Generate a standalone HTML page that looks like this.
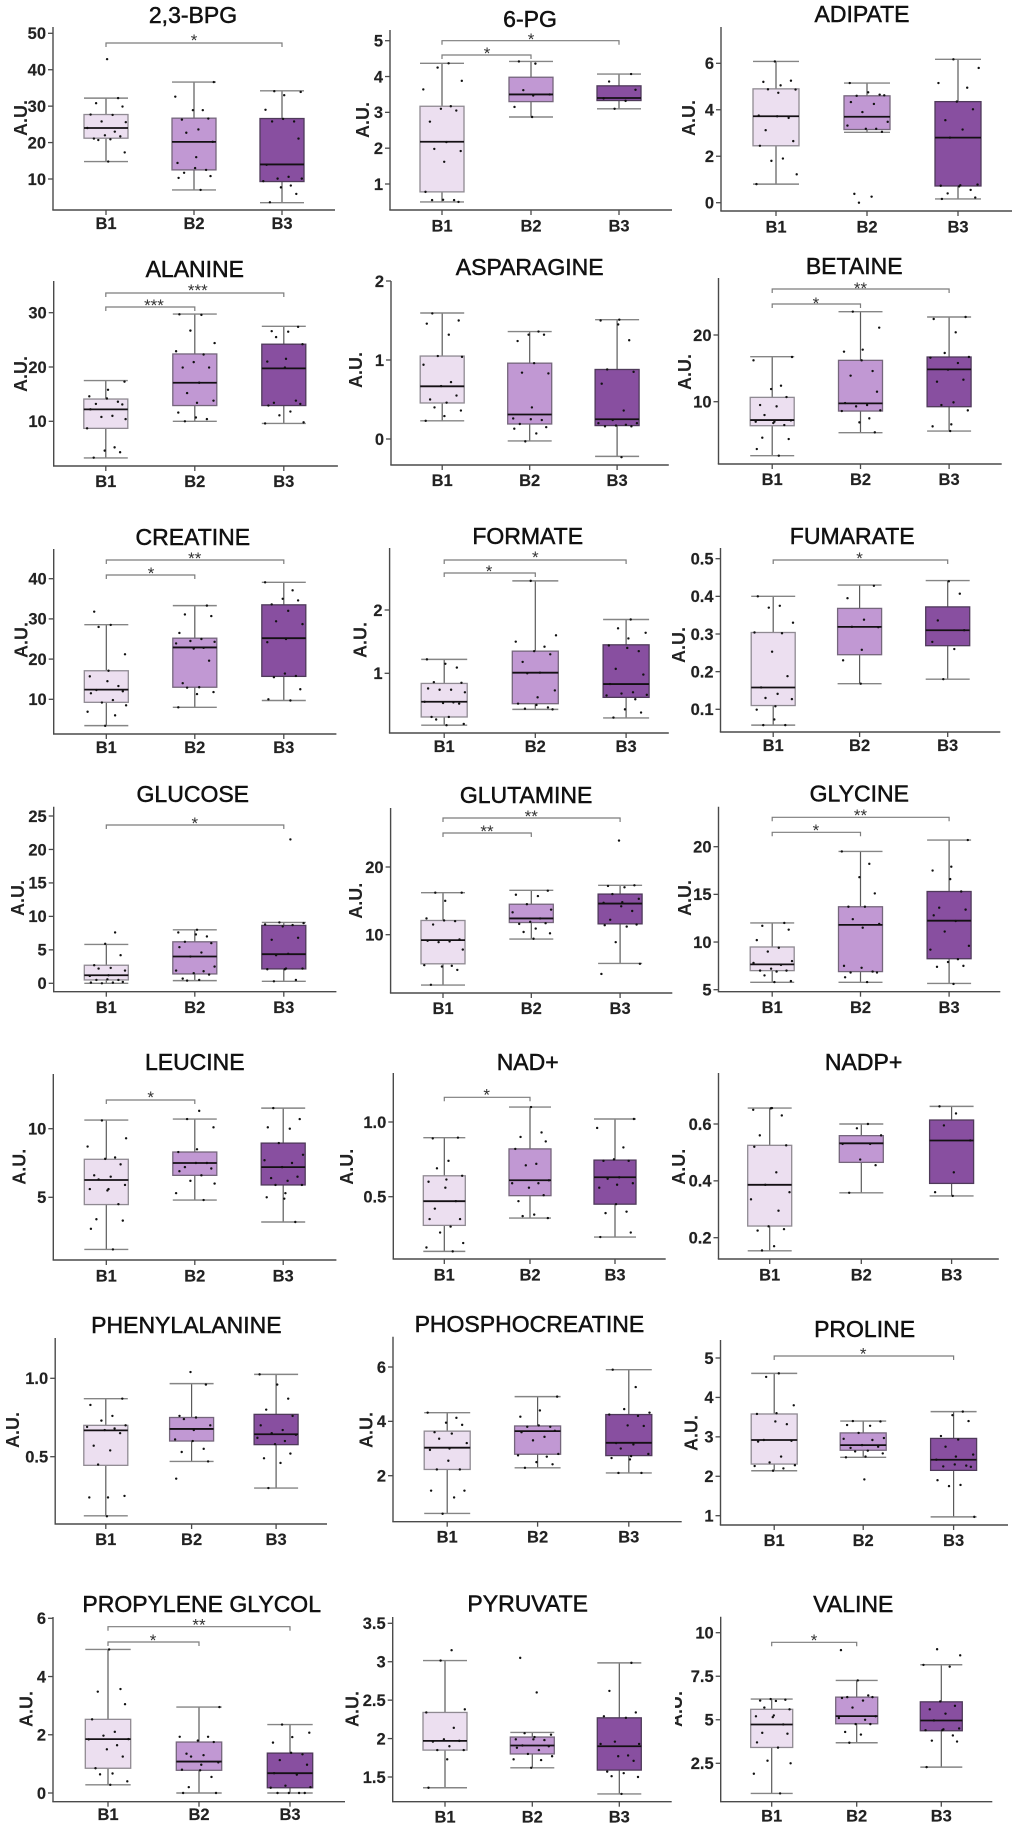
<!DOCTYPE html>
<html lang="en">
<head>
<meta charset="utf-8">
<title>Metabolite box plots</title>
<style>
html,body{margin:0;padding:0;background:#fff;}
#figure{display:block;width:1020px;height:1844px;font-family:"Liberation Sans",sans-serif;}
</style>
</head>
<body>
<svg id="figure" xmlns="http://www.w3.org/2000/svg" width="1020" height="1844" viewBox="0 0 1020 1844"></svg>
<script>
const categories = ['B1','B2','B3'];
const panelTitles = ['2,3-BPG','6-PG','ADIPATE','ALANINE','ASPARAGINE','BETAINE','CREATINE','FORMATE','FUMARATE','GLUCOSE','GLUTAMINE','GLYCINE','LEUCINE','NAD+','NADP+','PHENYLALANINE','PHOSPHOCREATINE','PROLINE','PROPYLENE GLYCOL','PYRUVATE','VALINE'];
const tickLabels = [
['10','20','30','40','50'],['1','2','3','4','5'],['0','2','4','6'],
['10','20','30'],['0','1','2'],['10','20'],
['10','20','30','40'],['1','2'],['0.1','0.2','0.3','0.4','0.5'],
['0','5','10','15','20','25'],['10','20'],['5','10','15','20'],
['5','10'],['0.5','1.0'],['0.2','0.4','0.6'],
['0.5','1.0'],['2','4','6'],['1','2','3','4','5'],
['0','2','4','6'],['1.5','2','2.5','3','3.5'],['2.5','5','7.5','10']
];
/* low whisker, q1, median, q3, high whisker for B1,B2,B3 */
const boxStats = [
[[14.8,21.2,24,27.7,32.2],[7,12.5,20.2,26.7,36.6],[3.5,9.3,14,26.6,34.2]],
[[.5,.78,2.18,3.17,4.37],[2.87,3.3,3.5,3.98,4.42],[3.1,3.33,3.4,3.74,4.07]],
[[.8,2.45,3.72,4.9,6.08],[3.03,3.15,3.7,4.6,5.15],[.16,.72,2.8,4.35,6.17]],
[[3.25,8.7,12.2,14.1,17.5],[10,12.9,17.1,22.4,29.75],[9.6,12.9,19.75,24.2,27.5]],
[[.23,.456,.667,1.05,1.595],[-.025,.19,.31,.96,1.36],[-.22,.17,.25,.88,1.51]],
[[1.9,6.4,7.25,10.65,16.75],[5.35,8.6,9.75,16.2,23.5],[5.6,9.25,14.85,16.7,22.7]],
[[3.45,9.25,12.4,17.1,28.55],[8,13,22.9,25.2,33.3],[9.7,15.7,25.2,33.5,39.1]],
[[.18,.31,.55,.84,1.22],[.43,.52,1.01,1.35,2.46],[.295,.62,.83,1.45,1.85]],
[[.058,.11,.158,.304,.4],[.168,.245,.319,.368,.43],[.18,.269,.31,.372,.442]],
[[0,.5,1.2,2.7,5.8],[.4,1.4,4,6.2,8],[.3,2.15,4.35,8.65,9.1]],
[[2.56,5.7,9.2,12.1,16.2],[9.36,11.8,12.4,14.5,16.55],[5.76,11.6,14.6,16,17.3]],
[[5.77,7,7.66,9.48,12],[5.77,6.9,11.8,13.7,19.5],[5.66,8.25,12.24,15.3,20.7]],
[[1.2,4.47,6.26,7.77,10.63],[4.8,6.6,7.5,8.3,10.7],[3.2,5.9,7.2,8.95,11.5]],
[[.134,.308,.47,.64,.895],[.357,.507,.61,.82,1.1],[.23,.45,.63,.745,1.02]],
[[.154,.241,.386,.525,.656],[.358,.465,.532,.559,.6],[.347,.391,.542,.614,.662]],
[[.123,.445,.668,.7,.87],[.47,.6,.677,.75,.966],[.3,.577,.643,.77,1.025]],
[[.61,2.23,3.03,3.64,4.32],[2.29,2.79,3.64,3.83,4.91],[2.1,2.74,3.21,4.25,5.9]],
[[2.14,2.31,2.92,3.58,4.61],[2.48,2.66,2.79,3.1,3.4],[.97,2.15,2.42,2.96,3.64]],
[[.28,.85,1.85,2.53,4.93],[0,.78,1.08,1.75,2.95],[0,.18,.68,1.37,2.35]],
[[1.36,1.85,1.97,2.34,3.015],[1.62,1.8,1.91,2.02,2.08],[1.28,1.59,1.9,2.27,2.985]],
[[.77,3.41,4.73,5.6,6.19],[3.68,4.77,5.21,6.3,7.26],[2.28,4.37,4.96,6.03,8.16]]
];
/* individual sample values for B1,B2,B3 */
const pointValues = [
[[42.9,32.2,30.8,29.9,27.7,27.6,25.8,25.6,24,23,22,21.7,21.1,20.9,20.7,17.3,14.8],[36.6,32.6,28.9,28.9,26.6,26.3,23.6,22.7,20.2,16,14.4,13,12.5,11.7,10.8,10.3,7],[34.1,33.9,33,29,26.5,25.8,25.8,21.1,13.9,10.6,10.1,10.1,9.4,8.2,7.7,5.9,3.6]],
[[4.37,4.25,3.88,3.64,3.17,3.1,3.05,2.74,2.17,1.98,1.92,1.62,.78,.56,.55,.55,.5],[4.42,4.36,3.62,3.5,3.47,3.15,2.87],[4.07,3.86,3.63,3.39,3.32,3.1]],
[[6.08,5.25,5.2,5.05,4.88,4.87,4.73,3.75,3.72,3.65,3.12,2.65,2.45,1.9,1.8,1.22,.8],[5.15,4.75,4.65,4.6,4.62,4.33,4.25,3.9,3.48,3.32,3.18,3.18,3.05,.38,.26,0],[6.17,5.8,5.15,4.95,4.35,4.02,3.55,3.15,2.8,.78,.75,.73,.7,.55,.4,.22,.16]],
[[17.3,15.8,14.6,14.2,13.6,13.2,13.1,12.2,11,10.8,10.4,8.7,5.2,4.6,4.3,3.3],[29.7,29.6,26.7,24.4,22.9,22.3,20.9,19.9,19.9,17.1,15.2,13.8,13.4,11.6,10.7,10.4,10],[27.4,26.6,26.5,25.5,24.2,21.5,21,19.9,13.8,13.4,13.2,12.9,11.8,11.1,9.8,9.6]],
[[1.59,1.5,1.46,1.32,1.05,1.04,.94,.72,.67,.55,.5,.46,.4,.36,.29,.23],[1.36,1.32,1.32,1.24,.96,.84,.83,.4,.26,.25,.24,.19,.15,.13,.07,-.03],[1.51,1.5,1.45,1.25,.88,.85,.7,.36,.24,.2,.2,.18,.17,.16,.16,-.23]],
[[16.7,16.2,12.4,11.9,10.7,9.5,9.3,8,7.2,7,7,6.8,6.5,4.6,4.4,2.9,1.9],[23.5,21.1,17.8,17.5,16.2,14.6,13.9,11.5,9.8,9.5,9.3,8.7,8.6,7.5,6.9,5.4],[22.7,22.4,20.4,17.3,16.7,16.6,15.8,14.8,13.3,13,9.9,9.5,8.7,6.6,6.3,5.6]],
[[31.8,28.5,28,21.2,17.1,15.7,14.5,13.3,12.3,12,11.5,9.8,9.2,8.5,6.9,6,3.4],[33.3,31.1,30.7,26.5,25,24.5,24.3,23.9,22.8,22.6,19.6,14,13,12.9,11.8,11.3,8],[39.1,37.1,35,34.6,33.6,32,29.4,28.7,25,24.2,16.4,15.8,15.5,12.5,10,9.7]],
[[1.22,1.15,1.09,.86,.85,.76,.74,.74,.7,.55,.54,.53,.52,.31,.31,.27,.2,.18],[2.46,1.6,1.5,1.42,1.35,1.3,1.18,1.01,1,.73,.62,.52,.5,.46,.44,.43],[1.85,1.71,1.64,1.55,1.44,1.4,1.35,1.07,.98,.83,.7,.68,.66,.65,.59,.43,.38,.3]],
[[.4,.375,.37,.33,.304,.302,.253,.188,.158,.141,.13,.127,.108,.099,.073,.058,.058],[.428,.395,.338,.319,.318,.258,.23,.168],[.44,.407,.336,.31,.279,.26,.18]],
[[7.6,5.9,4.2,2.7,2.3,2.2,1.9,1.2,1.1,.6,.5,.5,.2,.1,.1,0],[8,7.6,7.3,7,6.2,6,5.4,4.6,4,2.5,1.9,1.8,1.5,1.3,.7,.5,.4],[21.5,9.1,9,8.8,8.7,8.5,6.8,6.5,4.4,4.2,2.2,2.2,2.1,2.1,.5,.3]],
[[16.2,16.2,15,12.4,12.1,12,11.5,9.3,9.1,9,8.9,7.8,5.5,5.4,5.3,4.8,2.6],[16.5,15.9,15.7,14.5,13.7,13.3,12.4,11.9,11.7,11.6,10.9,10.4,10.2,9.4],[23.9,17.3,17.2,17,16,15.3,14.8,14.7,14.2,13.5,12.2,11.5,11.4,11.2,8.9,5.7,4.2]],
[[12,11.7,11.3,10.2,9.4,9,8,7.8,7.6,7.2,7,7,6.9,6.5,5.9,5.8],[19.5,18.2,16.8,15.1,13.7,13.7,12.4,11.9,11.5,7.5,7.3,6.9,6.8,6.8,6.3,5.8],[20.7,17.9,17.5,16.6,15.3,13.6,13.4,12.8,12.2,11.1,9.6,9.2,8.2,7.9,7.5,7.4,5.6]],
[[10.6,9.3,8.7,7.9,7.8,7.4,6.6,6.5,6.3,5.9,5.6,5.6,5.5,4.5,3.4,3.3,2.7,1.2],[11.3,10.7,10.1,8.5,8.3,7.5,7.5,7.2,7.1,6.9,6.6,6.2,6,5.3,4.8],[11.5,10.7,10.1,10,8.95,8.1,7.7,7.5,7.2,6.5,6.4,6.2,5.9,5.9,5.3,5,4.9,3.2]],
[[.895,.89,.74,.69,.64,.615,.6,.56,.47,.42,.35,.35,.3,.26,.19,.16,.134],[1.1,.93,.9,.87,.82,.72,.71,.61,.59,.59,.56,.51,.47,.38,.37,.357],[1.02,.96,.83,.75,.74,.74,.63,.62,.59,.58,.56,.45,.4,.39,.26,.23]],
[[.656,.65,.655,.63,.56,.525,.52,.43,.386,.36,.335,.295,.24,.23,.225,.17,.155],[.6,.585,.56,.53,.53,.475,.455,.358],[.662,.637,.595,.542,.43,.36,.347]],
[[.87,.83,.76,.73,.7,.69,.68,.67,.65,.57,.54,.45,.25,.24,.24,.12],[1.04,.96,.76,.75,.74,.7,.67,.61,.6,.55,.53,.47,.36],[1.025,.96,.87,.8,.76,.7,.67,.65,.64,.62,.6,.58,.52,.49,.46,.3]],
[[4.32,4.13,3.95,3.87,3.6,3.55,3.36,3.2,3,2.95,2.55,2.23,2.23,1.45,1.45,1.2,.6],[4.91,4.4,4.17,3.85,3.8,3.8,3.65,3.6,3.43,3.3,2.8,2.75,2.7,2.5,2.42,2.29],[5.9,5.26,4.45,4.32,4.25,4.2,3.85,3.83,3.2,3.15,3,2.8,2.72,2.65,2.6,2.1,2.1]],
[[4.61,4.52,3.8,3.6,3.58,3.39,3.32,2.92,2.9,2.88,2.5,2.35,2.28,2.26,2.2,2.14],[3.4,3.39,3.3,3.28,3.1,2.97,2.95,2.92,2.79,2.75,2.72,2.65,2.63,2.58,2.5,2.48,1.92],[3.64,3.55,3.4,3.02,2.93,2.75,2.55,2.5,2.42,2.3,2.27,2.25,2.24,1.9,1.78,1.75,.97]],
[[4.93,3.57,3.48,3.05,2.53,2.1,1.97,1.85,1.84,1.64,1.5,1.25,.85,.67,.64,.4,.28],[2.95,1.93,1.93,1.8,1.75,1.35,1.3,1.25,1.05,.97,.8,.78,.55,.2,0,0],[2.35,2.07,1.92,1.73,1.38,1.33,1.13,.97,.68,.63,.25,.2,.18,0,0,0,0]],
[[3.15,3.015,2.38,2.34,2.14,1.99,1.97,1.96,1.9,1.85,1.85,1.73,1.36],[3.05,2.6,2.07,2.05,2.02,1.99,1.99,1.98,1.91,1.9,1.88,1.85,1.8,1.77,1.73,1.72,1.62],[2.985,2.62,2.34,2.29,2.27,1.96,1.93,1.93,1.78,1.77,1.71,1.57,1.55,1.51,1.5,1.28]],
[[6.19,6.15,6.1,6.08,5.7,5.6,5.25,5.2,5.15,4.73,4.25,4.2,3.7,3.4,2.65,2.5,1.9,.77],[9,7.26,6.4,6.3,6.3,6.25,6.1,5.7,5.2,5.1,5,4.75,4.75,4.3,4.15,3.68],[9.05,8.7,8.15,8.05,6.05,5.8,5.6,5.35,4.96,4.5,4.45,4.4,4.4,4.1,3.8,3.75,2.28]]
];
/* significance annotations: from-group, to-group, stars */
const significance = [
[[0,2,'*']],[[0,2,'*'],[0,1,'*']],[],
[[0,2,'***'],[0,1,'***']],[],[[0,2,'**'],[0,1,'*']],
[[0,2,'**'],[0,1,'*']],[[0,2,'*'],[0,1,'*']],[[0,2,'*']],
[[0,2,'*']],[[0,2,'**'],[0,1,'**']],[[0,2,'**'],[0,1,'*']],
[[0,1,'*']],[[0,1,'*']],[],
[],[],[[0,2,'*']],
[[0,2,'**'],[0,1,'*']],[],[[0,1,'*']]
];

/* frame geometry only: plot frame, y calibration domain, group centres, title/axis-title anchors, bracket rows */
const frames = [
{l:53,r:335,t:27,b:210,d:[10,50],p:[179,33.3],c:[106,194,282],hw:22,tx:193,ty:23,ax:21,ay:118,lg:19,br:[[43,194,37]]},
{l:390,r:672,t:30,b:210,d:[1,5],p:[184,40.7],c:[442,531,619],hw:22,tx:530,ty:27,ax:363,ay:120,lg:21.5,br:[[40.7,531,36],[55,487,50]]},
{l:721,r:1012,t:27,b:211,d:[0,6],p:[202.7,63.3],c:[776,867,958],hw:23,tx:862,ty:22,ax:689,ay:118,lg:21.5,br:[]},
{l:53.7,r:337.9,t:281,b:466,d:[10,30],p:[421.3,312.7],c:[105.8,194.8,283.8],hw:22,tx:194.8,ty:277,ax:20.9,ay:374,lg:21,br:[[293,197.8,287],[307,154,302]]},
{l:391,r:668.8,t:281,b:465,d:[0,2],p:[439,281],c:[442.2,529.7,617.1],hw:22,tx:529.7,ty:275,ax:355.8,ay:370,lg:21,br:[]},
{l:718.5,r:1001.7,t:278,b:464,d:[10,20],p:[401.7,335],c:[772.2,860.5,949.1],hw:22,tx:854.2,ty:274,ax:685.2,ay:372,lg:21,br:[[289,860.5,285],[304,815.9,300]]},
{l:53.7,r:336.4,t:549,b:734,d:[10,40],p:[699.3,578.7],c:[106.3,194.8,283.8],hw:22,tx:192.8,ty:545,ax:21.4,ay:640,lg:19,br:[[560,194.8,555],[575,151,570]]},
{l:389.6,r:668.8,t:548,b:733,d:[1,2],p:[673.3,610],c:[444.2,535.3,626.1],hw:23,tx:527.7,ty:544,ax:360.7,ay:640,lg:19,br:[[560,535.3,554],[573,489,568]]},
{l:720.5,r:1000.3,t:548,b:732,d:[.1,.5],p:[709.3,558.7],c:[773.2,859.6,947.7],hw:22,tx:852.2,ty:544,ax:678.8,ay:645,lg:19,br:[[560,859.6,555]]},
{l:53.7,r:336.4,t:806.7,b:991.7,d:[0,25],p:[983.3,816],c:[106.3,194.8,283.8],hw:22,tx:192.8,ty:802,ax:17.9,ay:898,lg:21.5,br:[[825,194.8,820]]},
{l:390.6,r:672.3,t:808,b:993,d:[10,20],p:[934.7,867],c:[443,531.3,620.1],hw:22,tx:526.1,ty:803,ax:355.8,ay:900.7,lg:21,br:[[818,531.3,813],[833,487,828]]},
{l:718.5,r:1000.3,t:806.7,b:991.7,d:[5,20],p:[989.7,846.7],c:[772.2,860.5,949.1],hw:22,tx:859.3,ty:801.7,ax:685.2,ay:898,lg:21.5,br:[[817.3,860.5,812],[832.3,815.9,827]]},
{l:53.3,r:336.4,t:1074,b:1260,d:[5,10],p:[1197.3,1128.7],c:[106.3,194.8,283.2],hw:22,tx:194.8,ty:1070,ax:19.5,ay:1166.7,lg:21.5,br:[[1100,150.7,1094]]},
{l:393.3,r:665.7,t:1073,b:1259,d:[.5,1],p:[1196.7,1122],c:[444.3,530,615],hw:21,tx:527.7,ty:1070,ax:347,ay:1166.7,lg:21.5,br:[[1097.3,486.7,1091.7]]},
{l:718.5,r:998.8,t:1073,b:1259,d:[.2,.6],p:[1237.7,1124],c:[769.7,861.3,951.6],hw:22,tx:863.6,ty:1070,ax:678.8,ay:1166.7,lg:21.5,br:[]},
{l:55.2,r:327,t:1338,b:1524,d:[.5,1],p:[1456.7,1378.3],c:[105.8,191.6,276.1],hw:22,tx:186.4,ty:1333,ax:12.9,ay:1430,lg:21,br:[]},
{l:393,r:681.7,t:1336.7,b:1521.7,d:[2,6],p:[1475.7,1367],c:[447.2,537.6,628.8],hw:23,tx:529.4,ty:1332,ax:366.7,ay:1430,lg:21,br:[]},
{l:720.5,r:1008,t:1340,b:1525,d:[1,5],p:[1515.7,1358],c:[774.2,863.2,953.6],hw:23,tx:864.6,ty:1337,ax:691.7,ay:1433,lg:21,br:[[1356,863.2,1350.7]]},
{l:53,r:345,t:1617,b:1801.7,d:[0,6],p:[1793,1618.3],c:[108,199,290],hw:22.7,tx:201.7,ty:1612,ax:26.7,ay:1709,lg:18.5,br:[[1626.7,199,1621.7],[1642,153,1637]]},
{l:392.7,r:671.7,t:1617,b:1801.7,d:[1.5,3.5],p:[1777,1623.3],c:[445,532.3,619.3],hw:22,tx:527.7,ty:1611.7,ax:352.3,ay:1709,lg:21,br:[]},
{l:720.7,r:992.3,t:1616.7,b:1801.7,d:[2.5,10],p:[1763.3,1632.7],c:[771.7,856.7,941.3],hw:21,tx:853.3,ty:1612,ax:676,ay:1709,lg:20,br:[[1642.3,814,1637]]}
];
const groupFills = ['#ecdff0','#c198d3','#884fa0'];
const groupEdges = ['#8f8a92','#75667c','#4f3a5a'];
const jitterPattern = [.05,.55,-.45,.75,-.7,.3,-.2,.9,-.85,.4,-.05,.65,-.55,.2,-.35,.85,.1,-.75];

const NS = 'http://www.w3.org/2000/svg';
const root = document.getElementById('figure');
function slug(s){return s.toLowerCase().replace(/[^a-z0-9]+/g,'-').replace(/^-|-$/g,'');}
function make(parent, tag, attrs, txt){
  const el = document.createElementNS(NS, tag);
  for(const k in attrs){el.setAttribute(k, attrs[k]);}
  if(txt !== undefined){el.textContent = txt;}
  parent.appendChild(el);
  return el;
}
function yScale(f){
  const m = (f.p[1]-f.p[0])/(f.d[1]-f.d[0]);
  return function(v){return f.p[0]+(v-f.d[0])*m;};
}
function xCentre(f, g){return f.c[g];}

function drawAxes(g, f, i, y){
  const yAxis = make(g,'line',{x1:f.l,x2:f.l,y1:f.t,y2:f.b,stroke:'#4a4a4a','stroke-width':1.4});
  
  
  const xAxis = make(g,'line',{x1:f.l-.7,x2:f.r,y1:f.b,y2:f.b,stroke:'#4a4a4a','stroke-width':1.4});
  
  
  tickLabels[i].forEach(function(lab){
    const py = y(parseFloat(lab));
    const tick = make(g,'line',{x1:f.l-5,x2:f.l,y1:py,y2:py,stroke:'#4a4a4a','stroke-width':1.3});
    
    
    const t = make(g,'text',{x:f.l-7,y:py+5.8,'text-anchor':'end','font-size':16.5,'font-weight':'bold',fill:'#222',stroke:'#222','stroke-width':.15},lab);
    
    
  });
  categories.forEach(function(cat,k){
    const cx = xCentre(f,k);
    const tick = make(g,'line',{x1:cx,x2:cx,y1:f.b,y2:f.b+5,stroke:'#4a4a4a','stroke-width':1.3});
    
    
    const t = make(g,'text',{x:cx,y:f.b+f.lg,'text-anchor':'middle','font-size':16.5,'font-weight':'bold',fill:'#222',stroke:'#222','stroke-width':.15},cat);
    
    
  });
}
function drawBox(g, f, i, k, y){
  const s = boxStats[i][k];
  const cx = xCentre(f,k);
  const whisker = make(g,'line',{x1:cx,x2:cx,y1:y(s[0]),y2:y(s[4]),stroke:'#5a5a5a','stroke-width':1.2});
  
  
  [s[0],s[4]].forEach(function(v){
    const cap = make(g,'line',{x1:cx-f.hw,x2:cx+f.hw,y1:y(v),y2:y(v),stroke:'#858585','stroke-width':1.4});
    
    
  });
  const box = make(g,'rect',{x:cx-f.hw,y:y(s[3]),width:f.hw*2,height:y(s[1])-y(s[3]),fill:groupFills[k],stroke:groupEdges[k],'stroke-width':1.3});
  
  
  const med = make(g,'line',{x1:cx-f.hw,x2:cx+f.hw,y1:y(s[2]),y2:y(s[2]),stroke:'#141014','stroke-width':1.8});
  
  
  pointValues[i][k].forEach(function(v,n){
    const j = jitterPattern[(n+i*5+k*7)%jitterPattern.length];
    const dot = make(g,'circle',{cx:cx+j*f.hw,cy:y(v),r:1.2,fill:'#111'});
    
    
  });
}
function drawBrackets(g, f, i){
  significance[i].forEach(function(b,n){
    const row = f.br[n];
    const x1 = xCentre(f,b[0]), x2 = xCentre(f,b[1]);
    const path = make(g,'path',{d:'M'+x1+' '+(row[0]+4)+'V'+row[0]+'H'+x2+'V'+(row[0]+4),fill:'none',stroke:'#7c7c7c','stroke-width':1.2});
    
    
    const star = make(g,'text',{x:row[1],y:row[2]+9,'text-anchor':'middle','font-size':17,fill:'#333'},b[2]);
    
    
  });
}

frames.forEach(function(f,i){
  const g = make(root,'g',{});
  
  
  const y = yScale(f);
  const title = make(g,'text',{x:f.tx,y:f.ty,'text-anchor':'middle','font-size':23,fill:'#111',stroke:'#111','stroke-width':.5},panelTitles[i]);
  
  
  const au = make(g,'text',{x:f.ax,y:f.ay,'text-anchor':'middle','dominant-baseline':'central','font-size':18,'font-weight':'bold',fill:'#222',transform:'rotate(-90 '+f.ax+' '+f.ay+')'},'A.U.');
  
  
  categories.forEach(function(_,k){drawBox(g,f,i,k,y);});
  drawAxes(g,f,i,y);
  drawBrackets(g,f,i);
});
/* the valine axis title is cut off on its left side in the figure */
const mask = make(root,'rect',{x:660,y:1685,width:15,height:50,fill:'#fff'});


</script>
</body>
</html>
